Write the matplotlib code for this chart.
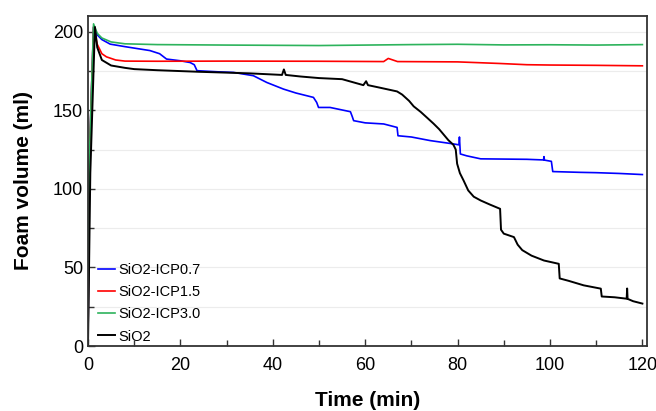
import matplotlib.pyplot as plt
from matplotlib.ticker import MultipleLocator

plt.rcParams['font.family'] = ['Liberation Sans', 'DejaVu Sans']

# SiO2-ICP0.7
t_blue = [0, 0.3, 1.2, 2, 3, 4.8, 8, 13.4, 15.5, 17, 20, 22.1, 23, 23.6, 28, 31.5,
          35.8, 38.7, 42.3, 45, 48.8, 49.5, 49.9, 52.4, 56.8, 57.2, 57.5, 60, 64,
          66.9, 67.1, 70, 74.1, 79.1, 80.3, 80.4, 80.6, 82, 85, 95, 98.6, 98.7,
          98.8, 100.3, 100.6, 106.6, 110, 115, 120]
v_blue = [0, 120, 203, 198, 195, 192.1, 190.5, 188, 186, 182.6, 181.5, 180.4, 179,
          175.2, 174.5, 174.1, 172, 167.7, 163.5, 161, 158.2, 155, 151.8, 151.8,
          149.1, 146, 143.4, 142, 141.3, 139.1, 133.8, 133, 130.7, 128.6, 128, 133,
          122.2, 121, 119.1, 118.8, 118.4, 120.5, 118.3, 117.5, 111, 110.5, 110.3,
          109.8, 109.1]

# SiO2-ICP1.5
t_red = [0, 0.3, 1.2, 2, 3, 4, 6, 8, 15, 30, 50, 64, 65, 66, 67, 80, 89, 95, 100,
         110, 120]
v_red = [0, 120, 203, 192, 186, 184, 182, 181.3, 181.2, 181.3, 181.2, 181, 183, 182,
         181, 180.8, 179.8, 179, 178.8, 178.6, 178.3]

# SiO2-ICP3.0
t_green = [0, 0.3, 1.2, 2, 3, 5, 8, 15, 30, 50, 60, 70, 80, 90, 100, 110, 120]
v_green = [0, 120, 205, 199, 196, 193.5, 192.3, 191.8, 191.5, 191.2, 191.5, 191.8,
           192, 191.6, 191.7, 191.5, 191.8]

# SiO2
t_black = [0, 0.5, 1.5, 2, 3, 5, 8, 10, 15, 24, 35, 42, 42.4, 42.8, 46, 50, 55, 59.6,
           60.2, 60.6, 63, 66.9, 68, 69.5, 70.5, 72, 73.5, 74.8, 76, 77, 78, 79.1,
           79.6, 79.9, 80.5, 81.3, 82.3, 83.5, 85, 87, 89.2, 89.4, 90, 92.2, 93, 94,
           96, 98.7, 101.9, 102.1, 104, 107.3, 111, 111.2, 114, 116.6, 116.7, 116.8,
           118, 120]
v_black = [0, 110, 203, 190, 182, 178.5, 177, 176.2, 175.5, 174.5, 173.5, 172.5, 176,
           172.5, 171.5, 170.5, 169.8, 166, 168.5, 166, 164.5, 162, 160, 156, 152.5,
           149, 145, 141.5, 138, 134.5, 131, 128, 125, 116, 110, 105.3, 99, 95, 92.6,
           90, 87.3, 74, 71.5, 69.3, 64.5, 61, 57.5, 54.4, 52.3, 43, 41.5, 38.6, 36.5,
           31.5, 31, 30.1, 36.6, 30, 28.5, 27]

fig = plt.figure(figsize=(6.56, 4.11), dpi=100)
ax = fig.add_axes([88 / 656, 1 - 346 / 411, 559 / 656, 330 / 411])

ax.plot(t_blue, v_blue, color='#0000ff', lw=1.2, label='SiO2-ICP0.7')
ax.plot(t_red, v_red, color='#ff0000', lw=1.2, label='SiO2-ICP1.5')
ax.plot(t_green, v_green, color='#2db35c', lw=1.2, label='SiO2-ICP3.0')
ax.plot(t_black, v_black, color='black', lw=1.4, label='SiO2')

ax.set_xlim(0, 121)
ax.set_ylim(0, 210)
ax.xaxis.set_major_locator(MultipleLocator(20))
ax.xaxis.set_minor_locator(MultipleLocator(10))
ax.yaxis.set_major_locator(MultipleLocator(50))
ax.yaxis.set_minor_locator(MultipleLocator(25))
ax.grid(True, which='both', axis='y', color='#ececec', lw=0.8)
ax.set_axisbelow(True)
ax.tick_params(which='both', direction='in', labelsize=13, colors='#333333',
               labelcolor='black')
ax.tick_params(which='major', length=5, width=1)
ax.tick_params(which='minor', length=4, width=1)
ax.tick_params(axis='x', pad=8)
for s in ax.spines.values():
    s.set_color('#333333')
    s.set_linewidth(1.3)

ax.set_xlabel('Time (min)', fontsize=15, fontweight='bold', labelpad=12)
ax.set_ylabel('Foam volume (ml)', fontsize=15, fontweight='bold', labelpad=14)

ax.legend(loc='lower left', bbox_to_anchor=(0.002, -0.019), frameon=False,
          fontsize=10.5, handlelength=1.2, handletextpad=0.2, labelspacing=0.55,
          borderaxespad=0.1, borderpad=0.5)

fig.savefig('out.png', dpi=100)
